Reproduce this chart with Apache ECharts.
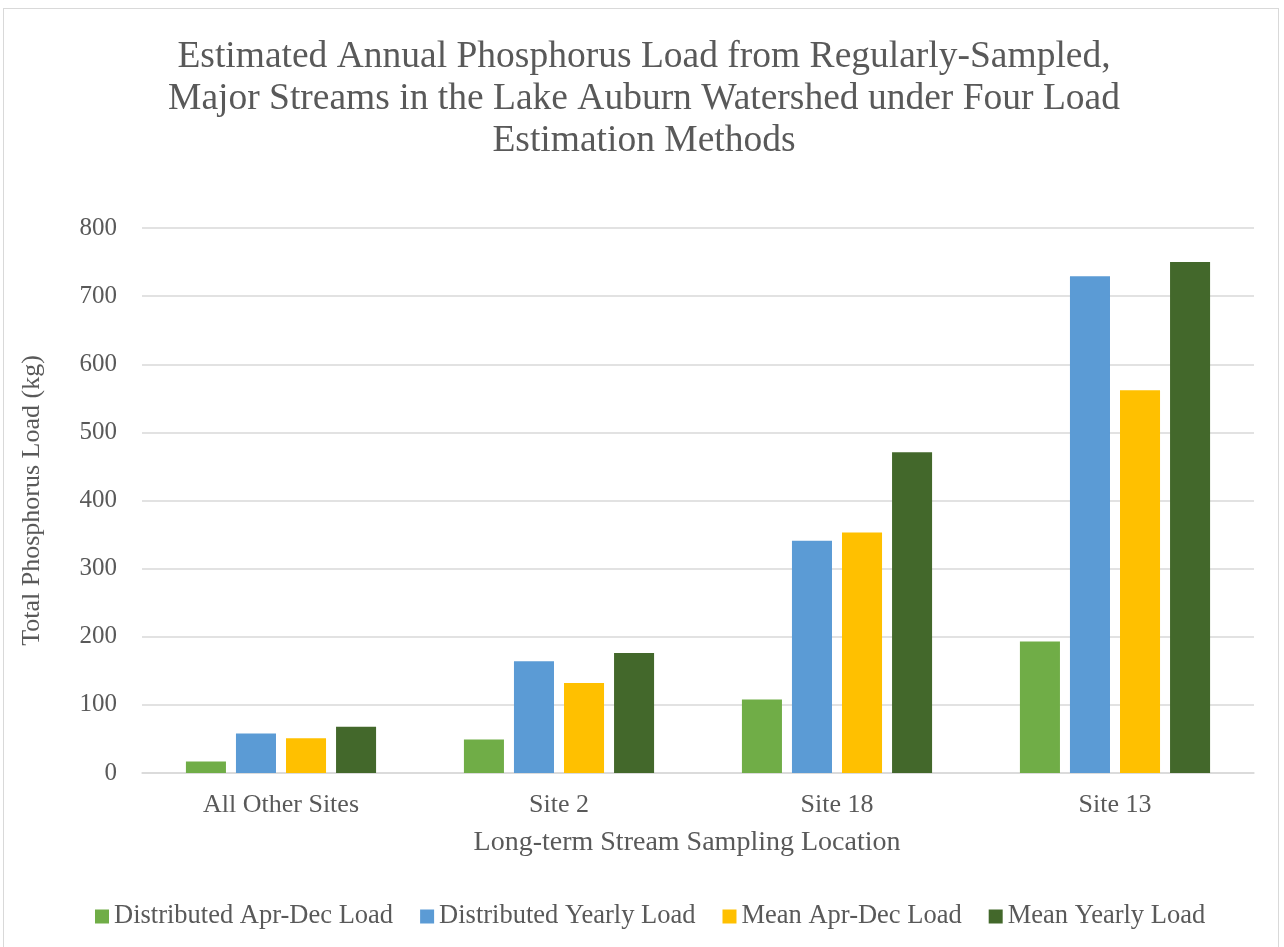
<!DOCTYPE html>
<html>
<head>
<meta charset="utf-8">
<script src="https://cdn.jsdelivr.net/npm/echarts@6/dist/echarts.min.js"></script>
<style>
  html, body { margin: 0; padding: 0; background: #ffffff; }
  #frame { position: absolute; left: 3px; top: 8px; width: 1276px; height: 945px; border: 1px solid #d9d9d9; box-sizing: border-box; }
  #chart { position: absolute; left: 0; top: 0; width: 1284px; height: 947px; }
</style>
</head>
<body>
<div id="frame"></div>
<div id="chart"></div>
<script>
// Sampling locations along the x axis
const categories = ['All Other Sites', 'Site 2', 'Site 18', 'Site 13'];

// Total phosphorus load (kg) for each estimation method
const distributedAprDec = [17, 49, 108, 193];
const distributedYearly = [58, 164, 341, 729];
const meanAprDec = [51, 132, 353, 562];
const meanYearly = [68, 176, 471, 750];

const seriesNames = ['Distributed Apr-Dec Load', 'Distributed Yearly Load', 'Mean Apr-Dec Load', 'Mean Yearly Load'];
const seriesColors = ['#70AD47', '#5B9BD5', '#FFC000', '#43682B'];
const seriesValues = [distributedAprDec, distributedYearly, meanAprDec, meanYearly];

const textColor = '#595959';
const fontFamily = '"Liberation Serif", "Times New Roman", serif';

const chart = echarts.init(document.getElementById('chart'), null, { renderer: 'canvas' });

chart.setOption({
  backgroundColor: 'transparent',
  textStyle: { fontFamily: fontFamily, color: textColor },
  title: {
    text: 'Estimated Annual Phosphorus Load from Regularly-Sampled,\nMajor Streams in the Lake Auburn Watershed under Four Load\nEstimation Methods',
    left: 639,
    top: 31,
    textAlign: 'center',
    textStyle: { fontFamily: fontFamily, fontSize: 37.5, fontWeight: 'normal', color: textColor, lineHeight: 42, align: 'center' }
  },
  legend: {
    data: seriesNames,
    top: 898,
    left: 90,
    itemWidth: 14,
    itemHeight: 14,
    itemGap: 27,
    icon: 'rect',
    textStyle: { fontFamily: fontFamily, fontSize: 26.5, color: textColor }
  },
  grid: { left: 142, right: 30, top: 228, bottom: 174, containLabel: false },
  xAxis: {
    type: 'category',
    data: categories,
    name: 'Long-term Stream Sampling Location',
    nameLocation: 'middle',
    nameGap: 56,
    nameTextStyle: { fontFamily: fontFamily, fontSize: 28, color: textColor, padding: [0, 22, 0, 0] },
    axisLine: { lineStyle: { color: '#d9d9d9', width: 1.5 } },
    axisTick: { show: false },
    axisLabel: { fontFamily: fontFamily, fontSize: 26, color: textColor, margin: 19 }
  },
  yAxis: {
    type: 'value',
    min: 0,
    max: 800,
    interval: 100,
    name: 'Total Phosphorus Load (kg)',
    nameLocation: 'middle',
    nameGap: 97,
    nameTextStyle: { fontFamily: fontFamily, fontSize: 26, color: textColor },
    axisLine: { show: false },
    axisTick: { show: false },
    axisLabel: { fontFamily: fontFamily, fontSize: 25, color: textColor, margin: 25 },
    splitLine: { lineStyle: { color: '#d9d9d9', width: 1.5 } }
  },
  series: seriesNames.map((name, i) => ({
    name: name,
    type: 'bar',
    data: seriesValues[i],
    barGap: '25%',
    barCategoryGap: '31.6%',
    itemStyle: { color: seriesColors[i] },
    emphasis: { disabled: true }
  })),
  animation: false
});
</script>
</body>
</html>
